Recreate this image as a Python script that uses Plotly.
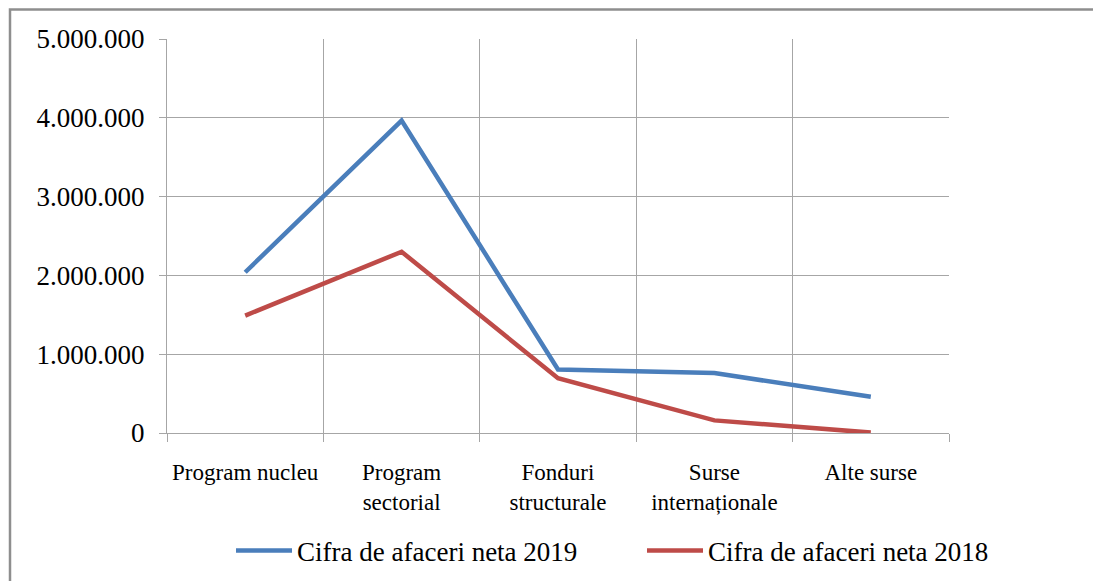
import plotly.graph_objects as go

categories = ["Program nucleu", "Program<br>sectorial", "Fonduri<br>structurale",
              "Surse<br>internaționale", "Alte surse"]
values_2019 = [2040000, 3965000, 805000, 760000, 460000]
values_2018 = [1490000, 2300000, 695000, 160000, 5000]
series_names = ["Cifra de afaceri neta 2019", "Cifra de afaceri neta 2018"]
y_ticks = [0, 1000000, 2000000, 3000000, 4000000, 5000000]

# page is shown with an 8px body margin, so figure coords = page coords - 8
OFF = 8
W, H = 1101 - OFF, 581 - OFF
L, R, T, B = 167 - OFF, 949 - OFF, 39 - OFF, 433 - OFF
PW, PH = R - L, B - T
SERIF = "Liberation Serif, Times New Roman, serif"

fig = go.Figure()
fig.add_trace(go.Scatter(x=categories, y=values_2019, mode="lines", name=series_names[0],
                         line=dict(color="#4a7ebb", width=4.5)))
fig.add_trace(go.Scatter(x=categories, y=values_2018, mode="lines", name=series_names[1],
                         line=dict(color="#be4b48", width=4.5)))

grid = "#a6a6a6"
fig.update_layout(
    width=W, height=H,
    margin=dict(l=L, r=W - R, t=T, b=H - B, autoexpand=False),
    paper_bgcolor="white", plot_bgcolor="white",
    separators=",.",
    font=dict(family=SERIF, color="black"),
    showlegend=True,
    legend=dict(orientation="h", x=(1053 - OFF - L) / PW, xanchor="right",
                y=(B - (551 - OFF)) / PH, yanchor="middle",
                font=dict(size=27, family=SERIF, color="black"),
                itemwidth=56, entrywidth=340, entrywidthmode="pixels"),
    xaxis=dict(type="category", tickson="boundaries", showgrid=True, gridcolor=grid,
               gridwidth=1, showline=True, linecolor=grid, linewidth=1,
               ticks="outside", ticklen=8, tickcolor=grid, ticklabelstandoff=18,
               tickangle=0,
               tickfont=dict(size=23, family=SERIF, color="black"),
               range=[-0.5, 4.5], zeroline=False, automargin=False),
    yaxis=dict(range=[0, 5000000], tickvals=y_ticks, tickformat=",d",
               showgrid=True, gridcolor=grid, gridwidth=1, showline=True,
               linecolor=grid, linewidth=1, ticks="outside", ticklen=7,
               tickcolor=grid, ticklabelstandoff=9,
               tickfont=dict(size=27, family=SERIF, color="black"),
               zeroline=False, automargin=False),
    shapes=[dict(type="rect", xref="paper", yref="paper",
                 x0=(10 - OFF - L) / PW, x1=(1130 - L) / PW,
                 y0=(B - 620) / PH, y1=(B - (9.5 - OFF)) / PH,
                 line=dict(color="#8e8e8e", width=2.5), layer="below")],
)
fig.write_html("out.html")
